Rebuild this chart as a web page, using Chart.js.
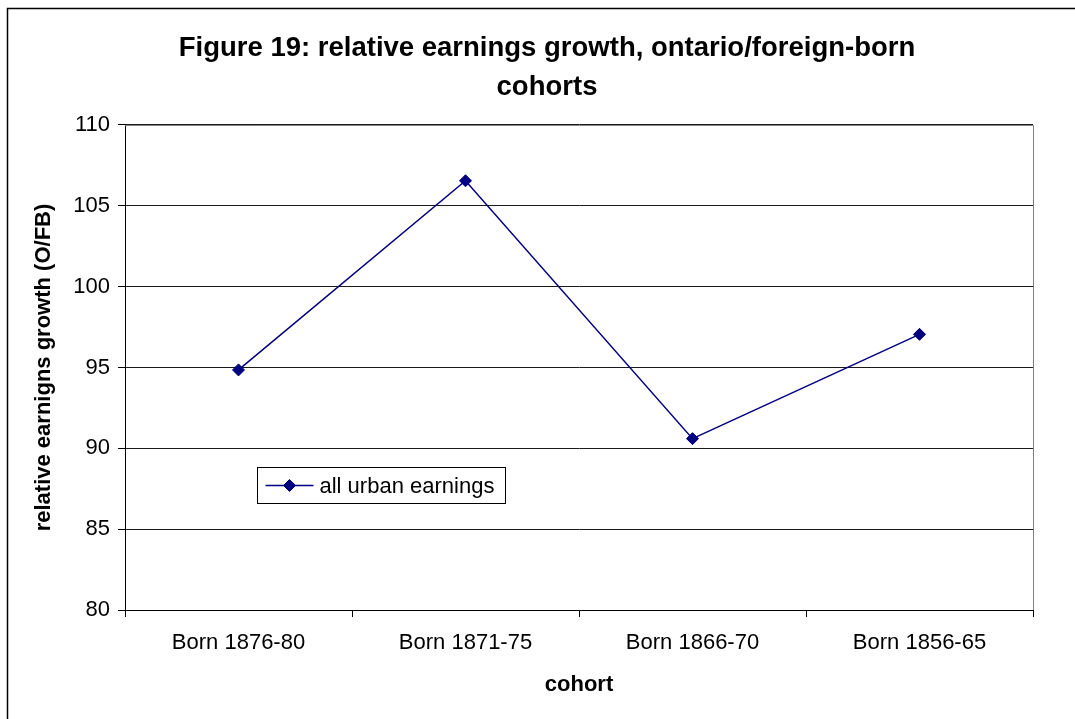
<!DOCTYPE html>
<html>
<head>
<meta charset="utf-8">
<script src="https://cdn.jsdelivr.net/npm/chart.js"></script>
<style>
html, body { margin: 0; padding: 0; background: #fff; }
canvas { display: block; }
</style>
</head>
<body>
<canvas id="c" width="1075" height="719"></canvas>
<script>
// ---- data ----
const categories = ['Born 1876-80', 'Born 1871-75', 'Born 1866-70', 'Born 1856-65'];
const urbanEarnings = [94.85, 106.55, 90.6, 97.05];
const seriesName = 'all urban earnings';
const yTickValues = [80, 85, 90, 95, 100, 105, 110];
const titleLines = ['Figure 19: relative earnings growth, ontario/foreign-born', 'cohorts'];
const xTitle = 'cohort';
const yTitle = 'relative earnigns growth (O/FB)';

// ---- styles ----
const FONT = "'Liberation Sans', Arial, Helvetica, sans-serif";
const NAVY = '#000080';

const framePlugin = {
  id: 'frame',
  beforeDraw(chart) {
    const ctx = chart.ctx;
    ctx.save();
    ctx.fillStyle = '#fff';
    ctx.fillRect(0, 0, chart.width, chart.height);
    ctx.strokeStyle = '#000';
    ctx.lineWidth = 1.5;
    ctx.beginPath();
    ctx.moveTo(7.5, chart.height);
    ctx.lineTo(7.5, 8.5);
    ctx.lineTo(chart.width, 8.5);
    ctx.stroke();
    ctx.restore();
  },
  beforeDatasetsDraw(chart) {
    const a = chart.chartArea;
    const ctx = chart.ctx;
    ctx.save();
    ctx.strokeStyle = '#808080';
    ctx.lineWidth = 1;
    ctx.beginPath();
    ctx.moveTo(a.left, a.top + 0.5);
    ctx.lineTo(a.right + 0.5, a.top + 0.5);
    ctx.lineTo(a.right + 0.5, a.bottom);
    ctx.stroke();
    ctx.restore();
  }
};

const boxLegendPlugin = {
  id: 'boxLegend',
  afterDatasetsDraw(chart) {
    const ctx = chart.ctx;
    const ds = chart.data.datasets[0];
    const x0 = 257.5, y0 = 467.5, w = 248, h = 36;
    const cy = y0 + h / 2;
    ctx.save();
    ctx.fillStyle = '#fff';
    ctx.fillRect(x0, y0, w, h);
    ctx.strokeStyle = '#000';
    ctx.lineWidth = 1;
    ctx.strokeRect(x0, y0, w, h);
    ctx.strokeStyle = ds.borderColor;
    ctx.lineWidth = ds.borderWidth;
    ctx.beginPath();
    ctx.moveTo(x0 + 8, cy);
    ctx.lineTo(x0 + 56, cy);
    ctx.stroke();
    ctx.fillStyle = ds.pointBackgroundColor;
    ctx.strokeStyle = ds.pointBorderColor;
    ctx.lineWidth = 1;
    ctx.beginPath();
    const r = ds.pointRadius;
    ctx.moveTo(x0 + 32, cy - r); ctx.lineTo(x0 + 32 + r, cy);
    ctx.lineTo(x0 + 32, cy + r); ctx.lineTo(x0 + 32 - r, cy); ctx.closePath();
    ctx.fill(); ctx.stroke();
    ctx.fillStyle = '#000';
    ctx.font = '22px ' + FONT;
    ctx.textAlign = 'left';
    ctx.textBaseline = 'middle';
    ctx.fillText(ds.label, x0 + 62, cy + 1);
    ctx.restore();
  }
};

new Chart(document.getElementById('c'), {
  type: 'line',
  data: {
    labels: categories,
    datasets: [{
      label: seriesName,
      data: urbanEarnings,
      borderColor: NAVY,
      backgroundColor: NAVY,
      borderWidth: 1.5,
      pointStyle: 'rectRot',
      pointRadius: 6,
      pointBackgroundColor: NAVY,
      pointBorderColor: NAVY,
      pointBorderWidth: 1,
      tension: 0,
      fill: false
    }]
  },
  options: {
    responsive: false,
    animation: false,
    devicePixelRatio: 1,
    layout: { padding: { left: 61, right: 42, top: 0, bottom: 0 } },
    plugins: {
      legend: { display: false },
      tooltip: { enabled: false },
      title: {
        display: true,
        text: titleLines,
        color: '#000',
        font: { family: FONT, size: 27.5, weight: 'bold', lineHeight: 1.418 },
        padding: { top: 28.5, bottom: 18.5 }
      }
    },
    scales: {
      x: {
        type: 'category',
        offset: true,
        grid: { display: true, drawOnChartArea: false, drawTicks: true, tickLength: 7, offset: true, color: '#000', tickColor: '#000' },
        border: { display: true, color: '#000', width: 1 },
        ticks: { color: '#000', font: { family: FONT, size: 22 }, padding: 13, maxRotation: 0, autoSkip: false },
        title: { display: true, text: xTitle, color: '#000', font: { family: FONT, size: 22, weight: 'bold' }, padding: { top: 0, bottom: 21 } },
        afterFit(scale) { scale.height = 109; }
      },
      y: {
        min: 80,
        max: 110,
        afterBuildTicks(scale) { scale.ticks = yTickValues.map(v => ({ value: v })); },
        grid: { color: '#1a1a1a', lineWidth: 1, drawTicks: true, tickLength: 7, tickColor: '#000' },
        border: { display: true, color: '#000', width: 1 },
        ticks: { color: '#000', font: { family: FONT, size: 22 }, padding: 8 },
        title: { display: true, text: yTitle, color: '#000', font: { family: FONT, size: 22, weight: 'bold' }, padding: { top: -30.2, bottom: 0 } },
        afterFit(scale) { scale.width = 64; }
      }
    }
  },
  plugins: [framePlugin, boxLegendPlugin]
});
</script>
</body>
</html>
